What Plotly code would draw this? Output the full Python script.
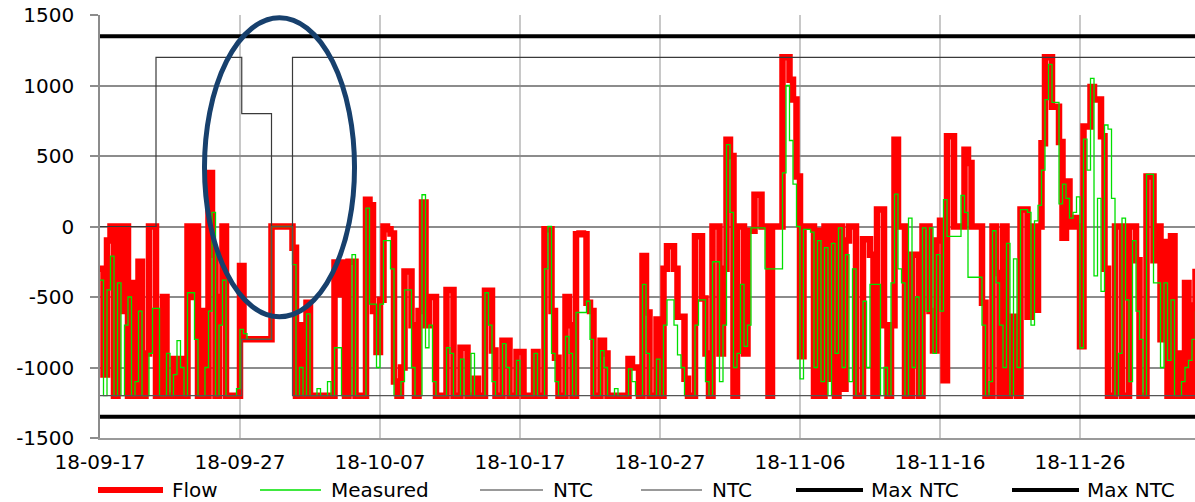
import pandas as pd
import plotly.graph_objects as go

# ---------------- data (6-hour resolution, starting 2018-09-17 00:00) ----------------
START = "2018-09-17"
flow = [
    -300, -1050, -100, 0,        # d0
    -1200, 0, -600, 0,           # d1
    -1200, -400, -1200, -250,    # d2
    -1200, -900, 0, 0,           # d3
    -1200, -1200, -500, -1200,   # d4
    -1200, -940, -1200, -940,    # d5
    -1200, 0, -500, 0,           # d6
    -1200, -600, -1200, 380,     # d7
    -200, -1200, -500, 0,        # d8
    -1200, -1200, -1200, -1200,  # d9
    -280, -800, -800, -800,      # d10
    -800, -800, -800, -800,      # d11
    -800, 0, 0, 0,               # d12
    0, 0, 0, -150,               # d13
    -1200, -700, -1200, -540,    # d14
    -1200, -1200, -1200, -1200,  # d15
    -1200, -1200, -1200, -255,   # d16
    -480, -255, -1200, -250,     # d17
    -250, -1200, -1200, -1200,   # d18
    190, 150, -600, -890,        # d19
    -520, 0, -20, -50,           # d20
    -1100, -1200, -1000, -320,   # d21
    -320, -700, -1200, -600,     # d22
    170, -700, -500, -500,       # d23
    -1200, -1200, -1200, -450,   # d24
    -450, -1200, -1200, -860,    # d25
    -860, -1200, -1200, -1080,   # d26
    -1200, -1200, -455, -455,    # d27
    -880, -1200, -1200, -810,    # d28
    -810, -1200, -1200, -890,    # d29
    -890, -1200, -1200, -1200,   # d30
    -890, -1200, -1200, -20,     # d31
    -20, -600, -930, -1200,      # d32
    -1200, -500, -700, -1200,    # d33
    -55, -50, -55, -540,         # d34
    -600, -1200, -1200, -810,    # d35
    -900, -1200, -1200, -1200,   # d36
    -1200, -1200, -1200, -940,   # d37
    -1000, -1000, -1200, -210,   # d38
    -610, -1200, -1200, -660,    # d39
    -1200, -300, -140, -140,     # d40
    -300, -640, -640, -1080,     # d41
    -1200, -1200, -70, -70,      # d42
    -510, -900, -1200, 0,        # d43
    0, -900, -300, 615,          # d44
    500, -1200, 0, 0,            # d45
    -900, -30, -30, 225,         # d46
    225, 0, 0, -1200,            # d47
    0, 0, 0, 1200,               # d48
    1200, 1040, 900, 355,        # d49
    -920, 0, 0, 0,               # d50
    -1200, -30, -1200, 0,        # d51
    -1080, 0, -1200, 0,          # d52
    -1150, -100, 0, 0,           # d53
    -1200, -1200, -90, -90,      # d54
    -200, -1200, 120, 120,       # d55
    -700, -1200, -700, 615,      # d56
    0, 0, -1200, -1200,          # d57
    -200, -200, -1200, 0,        # d58
    0, -600, -880, -100,         # d59
    40, -1090, 640, 640,         # d60
    0, 0, 0, 545,                # d61
    450, 0, 0, 0,                # d62
    -540, -1200, -1200, 0,       # d63
    -330, -1200, 0, -1200,       # d64
    -640, -640, -1200, 120,      # d65
    120, -640, 0, -590,          # d66
    0, 590, 1200, 1200,          # d67
    850, 850, 600, -80,          # d68
    320, 0, 60, 0,               # d69
    -850, 710, 710, 990,         # d70
    900, 900, 640, -300,         # d71
    -1200, -1200, 0, 0,          # d72
    -1200, -1200, 0, 0,          # d73
    -240, -1200, -1200, 355,     # d74
    355, -240, 0, -800,          # d75
    -110, -1200, -70, -1200,     # d76
    -900, -1200, -400, -1200,    # d77
    -560, -300,                  # d78
]
measured = [
    -380, -1200, -450, -210,     # d0
    -1200, -400, -1200, -700,    # d1
    -500, -1200, -1100, -600,    # d2
    -1200, -1200, -900, -580,    # d3
    -580, -1200, -1200, -900,    # d4
    -1200, -1050, -810, -1000,   # d5
    -1200, -470, -470, -800,     # d6
    -1200, -1200, -1000, -600,   # d7
    100, -1200, -700, -380,      # d8
    -1200, -1200, -1200, -1150,  # d9
    -730, -760, -800, -800,      # d10
    -800, -800, -800, -800,      # d11
    -800, 0, 0, 0,               # d12
    0, 0, 0, -270,               # d13
    -1200, -1000, -1200, -620,   # d14
    -1200, -1200, -1150, -1200,  # d15
    -1200, -1100, -1200, -860,   # d16
    -860, -1200, -1200, -1200,   # d17
    -200, -1200, -1200, -1200,   # d18
    130, -550, -550, -1000,      # d19
    -550, -100, -100, -300,      # d20
    -1200, -1200, -1100, -450,   # d21
    -450, -1000, -1200, -1200,   # d22
    225, -860, -700, -1100,      # d23
    -1200, -1200, -1200, -860,   # d24
    -900, -1200, -1200, -940,    # d25
    -1200, -1200, -900, -1200,   # d26
    -1200, -1200, -470, -700,    # d27
    -1100, -1200, -1200, -830,   # d28
    -1000, -1200, -1200, -950,   # d29
    -1200, -1200, -1200, -1200,  # d30
    -900, -1200, -1200, -300,    # d31
    0, -900, -1100, -1200,       # d32
    -1200, -780, -900, -1200,    # d33
    -610, -610, -610, -530,      # d34
    -800, -1200, -1200, -880,    # d35
    -1000, -1200, -1200, -1150,  # d36
    -1200, -1200, -1200, -1010,  # d37
    -1100, -1200, -1200, -410,   # d38
    -900, -1200, -1200, -940,    # d39
    -1200, -700, -520, -520,     # d40
    -700, -910, -1000, -1200,    # d41
    -1200, -1200, -700, -520,    # d42
    -520, -1100, -1200, -250,    # d43
    -250, -1100, -700, 580,      # d44
    100, -1000, -900, -410,      # d45
    -850, -700, -10, -10,        # d46
    -10, -10, -300, -300,        # d47
    -300, -300, -300, 380,       # d48
    1000, 610, 300, 0,           # d49
    -1080, -20, -20, -40,        # d50
    -1000, -100, -1100, -150,    # d51
    -1200, -120, -900, -10,      # d52
    -1000, -200, -1100, -300,    # d53
    -1200, -1200, -530, -1000,   # d54
    -410, -410, -410, -1200,     # d55
    -1000, -1200, -400, 230,     # d56
    -300, -400, -1200, 60,       # d57
    -1000, -500, -1200, -10,     # d58
    -600, -10, -900, -200,       # d59
    -600, 190, -70, -70,         # d60
    -70, -70, 220, 100,          # d61
    -360, -360, -360, -360,      # d62
    -700, -1200, -1100, -30,     # d63
    -400, -700, -1000, -120,     # d64
    -1200, -230, -1000, 120,     # d65
    120, 100, -700, 40,          # d66
    150, 400, 900, 1150,         # d67
    880, 880, 160, 300,          # d68
    200, 60, 100, 210,           # d69
    -860, 620, 400, 1050,        # d70
    -350, 200, -460, 720,        # d71
    690, 200, -1200, -900,       # d72
    60, -520, -1100, -100,       # d73
    -600, -800, -1200, 370,      # d74
    370, -400, -400, -1000,      # d75
    -400, -950, -520, -1200,     # d76
    -1200, -1100, -1000, -950,   # d77
    -800, -600,                  # d78
]
ntc_dates = ["2018-09-17 00:00", "2018-09-21 00:00", "2018-09-27 03:00",
             "2018-09-29 06:00", "2018-09-30 18:00", "2018-12-06 00:00"]
ntc_pos = [0, 1200, 800, 0, 1200, 1200]
ntc_neg = [-1200, -1200, -800, 0, -1200, -1200]
max_ntc = 1350
x_start, x_end = "2018-09-17 00:00", "2018-12-04 05:08"
y_ticks = [-1500, -1000, -500, 0, 500, 1000, 1500]
y_ticktext = ["-1500", "-1000", "-500", "0", "500", "1000", "1500"]
legend_names = ["Flow", "Measured", "NTC", "NTC", "Max NTC", "Max NTC"]

times = pd.date_range(START, periods=len(flow), freq="6h")

FONT = "DejaVu Sans"
FS = 20
RED = "#ff0000"
GREEN = "#00e000"
NTC_C = "#3a3a3a"

fig = go.Figure()
fig.add_trace(go.Scatter(x=times, y=flow, mode="lines", name="Flow",
                         line=dict(color=RED, width=6.5, shape="hv")))
fig.add_trace(go.Scatter(x=times, y=measured, mode="lines", name="Measured",
                         line=dict(color=GREEN, width=1.3, shape="hv")))
fig.add_trace(go.Scatter(x=ntc_dates, y=ntc_pos, mode="lines", name="NTC",
                         line=dict(color=NTC_C, width=1.2, shape="hv")))
fig.add_trace(go.Scatter(x=ntc_dates, y=ntc_neg, mode="lines", name="NTC",
                         line=dict(color="#555555", width=1.2, shape="hv")))
fig.add_trace(go.Scatter(x=[ntc_dates[0], ntc_dates[-1]], y=[max_ntc, max_ntc],
                         mode="lines", name="Max NTC", line=dict(color="black", width=4)))
fig.add_trace(go.Scatter(x=[ntc_dates[0], ntc_dates[-1]], y=[-max_ntc, -max_ntc],
                         mode="lines", name="Max NTC", line=dict(color="black", width=4)))

# highlight ellipse
fig.add_shape(type="circle", xref="x", yref="y",
              x0="2018-09-24 11:08", x1="2018-10-05 04:19", y0=-640, y1=1481,
              line=dict(color="#17406d", width=5), layer="above")

# custom legend (long line samples like the original)
W, H = 1195, 502
L, R, T, B = 100, 0, 15, 64
pw, ph = W - L - R, H - T - B
def px(x):
    return (x - L) / pw
def py(y):
    return (H - B - y) / ph
leg = [  # (line start, line end, text start, color, width)
    (98, 163, 170, RED, 6),
    (260, 321, 329, GREEN, 1.5),
    (480, 543, 551, "#777777", 1.5),
    (641, 702, 710, "#777777", 1.5),
    (796, 863, 869, "black", 4),
    (1012, 1079, 1085, "black", 4),
]
ly = 490
for (a, b, t, c, w), name in zip(leg, legend_names):
    fig.add_shape(type="line", xref="paper", yref="paper",
                  x0=px(a), x1=px(b), y0=py(ly), y1=py(ly),
                  line=dict(color=c, width=w))
    fig.add_annotation(xref="paper", yref="paper", x=px(t), y=py(ly),
                       text=name, showarrow=False, xanchor="left", yanchor="middle",
                       font=dict(family=FONT, size=FS, color="black"))

fig.update_layout(
    width=W, height=H,
    margin=dict(l=L, r=R, t=T, b=B, pad=0),
    paper_bgcolor="white", plot_bgcolor="white",
    showlegend=False,
    font=dict(family=FONT, size=FS, color="black"),
    xaxis=dict(type="date", range=[x_start, x_end],
               tick0="2018-09-17", dtick=864000000, tickformat="%y-%m-%d",
               showgrid=True, gridcolor="#c8c8c8", gridwidth=1.5,
               showline=True, linecolor="#9a9a9a", linewidth=1.5,
               ticks="", ticklabelstandoff=5, zeroline=False,
               tickfont=dict(family=FONT, size=FS, color="black")),
    yaxis=dict(range=[-1500, 1500], tickvals=y_ticks, ticktext=y_ticktext,
               showgrid=True, gridcolor="#8c8c8c", gridwidth=1.5,
               showline=True, linecolor="#8c8c8c", linewidth=1.5,
               ticks="outside", ticklen=8, tickcolor="#8c8c8c", tickwidth=1.5,
               ticklabelstandoff=12, zeroline=False,
               tickfont=dict(family=FONT, size=FS, color="black")),
)

fig.write_html("out.html", config={"displayModeBar": False},
               post_script="document.body.style.margin='0';")
